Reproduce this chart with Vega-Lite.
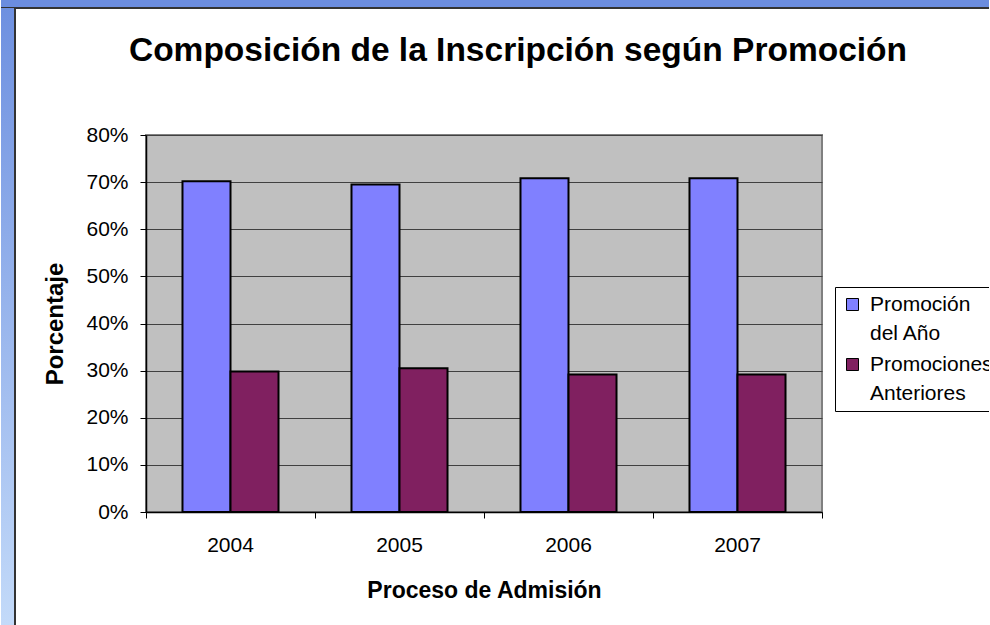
{
  "$schema": "https://vega.github.io/schema/vega-lite/v6.json",
  "background": "white",
  "padding": {"left": 0, "top": 0, "right": -12, "bottom": 0},
  "bounds": "flush",
  "spacing": 0,
  "config": {
    "font": "Liberation Sans",
    "style": {"guide-label": {"lineHeight": 29}}
  },
  "vconcat": [
    {
      "width": 990,
      "height": 8,
      "view": {"stroke": null, "fill": null},
      "data": {"values": [{"k": 1}]},
      "layer": [
        {"mark": {"type": "rect", "color": "#6B8DDF"}, "encoding": {}},
        {
          "mark": {"type": "rule", "color": "#333333", "strokeWidth": 2},
          "encoding": {"y": {"datum": 0, "type": "quantitative", "scale": {"domain": [0, 1]}, "axis": null}}
        }
      ]
    },
    {
      "bounds": "flush",
      "spacing": 131,
      "hconcat": [
        {
          "width": 14,
          "height": 617,
          "view": {"stroke": null, "fill": null},
          "data": {"values": [{"k": 1}]},
          "layer": [
            {
              "mark": {
                "type": "rect",
                "color": {
                  "gradient": "linear",
                  "x1": 0, "y1": 0, "x2": 0, "y2": 1,
                  "stops": [
                    {"offset": 0, "color": "#6E90E0"},
                    {"offset": 1, "color": "#C3DAF9"}
                  ]
                }
              },
              "encoding": {}
            },
            {
              "mark": {"type": "rule", "color": "#333333", "strokeWidth": 2},
              "encoding": {"x": {"datum": 1, "type": "quantitative", "scale": {"domain": [0, 1]}, "axis": null}}
            }
          ]
        },
        {
          "bounds": "flush",
          "spacing": 0,
          "vconcat": [
            {
              "width": 676,
              "height": 127,
              "view": {"stroke": null, "fill": null},
              "data": {"values": []},
              "mark": "point",
              "encoding": {}
            },
            {
              "width": 676,
              "height": 377,
              "view": {"fill": "#C0C0C0", "stroke": "#808080", "strokeWidth": 2},
              "data": {
                "values": [
                  {"anio": "2004", "serie": "Promoción del Año", "pct": 0.702},
                  {"anio": "2004", "serie": "Promociones Anteriores", "pct": 0.298},
                  {"anio": "2005", "serie": "Promoción del Año", "pct": 0.695},
                  {"anio": "2005", "serie": "Promociones Anteriores", "pct": 0.305},
                  {"anio": "2006", "serie": "Promoción del Año", "pct": 0.708},
                  {"anio": "2006", "serie": "Promociones Anteriores", "pct": 0.292},
                  {"anio": "2007", "serie": "Promoción del Año", "pct": 0.708},
                  {"anio": "2007", "serie": "Promociones Anteriores", "pct": 0.292}
                ]
              },
              "title": {
                "text": "Composición de la Inscripción según Promoción",
                "fontSize": 33.5,
                "fontWeight": "bold",
                "color": "black",
                "anchor": "middle",
                "dx": 34,
                "offset": 56
              },
              "mark": {"type": "bar", "stroke": "black", "strokeWidth": 2},
              "encoding": {
                "x": {
                  "field": "anio",
                  "type": "nominal",
                  "scale": {"paddingInner": 0, "paddingOuter": 0},
                  "axis": {
                    "title": "Proceso de Admisión",
                    "titleFontSize": 23,
                    "titleFontWeight": "bold",
                    "titleColor": "black",
                    "titlePadding": 24,
                    "labelFontSize": 21,
                    "labelColor": "black",
                    "labelAngle": 0,
                    "labelPadding": 16,
                    "tickSize": 6,
                    "tickColor": "black",
                    "domainColor": "black",
                    "domainWidth": 1.5,
                    "bandPosition": 1,
                    "tickExtra": true,
                    "grid": false
                  }
                },
                "xOffset": {
                  "field": "serie",
                  "type": "nominal",
                  "sort": ["Promoción del Año", "Promociones Anteriores"],
                  "scale": {"paddingInner": 0, "paddingOuter": 0.76}
                },
                "y": {
                  "field": "pct",
                  "type": "quantitative",
                  "scale": {"domain": [0, 0.8], "nice": false},
                  "axis": {
                    "values": [0, 0.1, 0.2, 0.3, 0.4, 0.5, 0.6, 0.7, 0.8],
                    "format": ".0%",
                    "title": "Porcentaje",
                    "titleFontSize": 24,
                    "titleFontWeight": "bold",
                    "titleColor": "black",
                    "titlePadding": 18,
                    "labelFontSize": 21,
                    "labelColor": "black",
                    "labelPadding": 12,
                    "tickSize": 6,
                    "tickColor": "black",
                    "domainColor": "black",
                    "domainWidth": 1.5,
                    "grid": true,
                    "gridColor": "#404040",
                    "gridWidth": 1
                  }
                },
                "color": {
                  "field": "serie",
                  "type": "nominal",
                  "scale": {
                    "domain": ["Promoción del Año", "Promociones Anteriores"],
                    "range": ["#8080FF", "#802060"]
                  },
                  "legend": {
                    "orient": "none",
                    "legendX": 834,
                    "legendY": 287,
                    "title": null,
                    "symbolType": "square",
                    "symbolSize": 144,
                    "symbolStrokeColor": "black",
                    "symbolStrokeWidth": 1,
                    "labelFontSize": 21,
                    "labelColor": "black",
                    "labelOffset": 7,
                    "labelLimit": 200,
                    "labelExpr": "datum.label == 'Promoción del Año' ? ['Promoción', 'del Año'] : ['Promociones', 'Anteriores']",
                    "rowPadding": 9,
                    "padding": 7,
                    "strokeColor": "black",
                    "fillColor": "white"
                  }
                }
              }
            }
          ]
        }
      ]
    }
  ]
}
